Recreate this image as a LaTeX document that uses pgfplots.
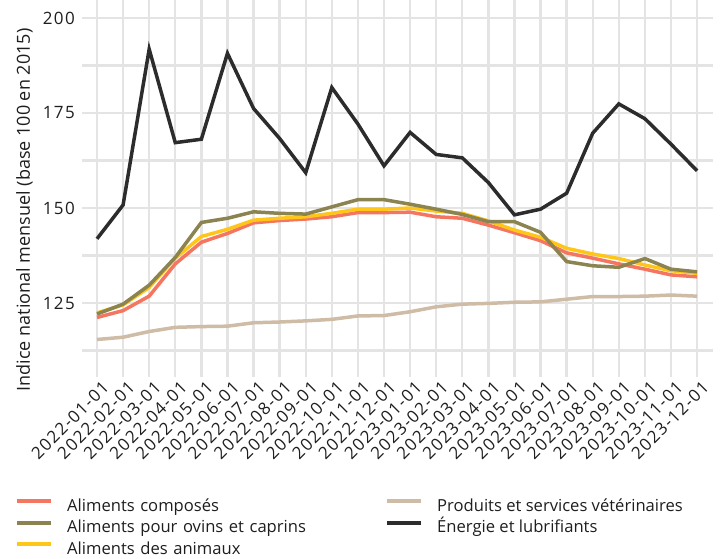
\documentclass[border=0pt]{standalone}
\usepackage{fontspec}
\setmainfont{Open Sans}
\newfontfamily\tickfont[LetterSpace=8]{Open Sans}
\usepackage{pgfplots}
\usepackage{pgfplotstable}
\pgfplotsset{compat=1.18}
\definecolor{cRed}{HTML}{F47560}
\definecolor{cOlive}{HTML}{8B8350}
\definecolor{cYellow}{HTML}{FFC61A}
\definecolor{cTan}{HTML}{CFBCA6}
\definecolor{cBlack}{HTML}{2C2C2C}
\definecolor{cGrid}{HTML}{E4E4E4}
\definecolor{cText}{HTML}{1E1E1E}
\pgfplotstableread{
x comp ovins anim vet ener
0  121.2 122.1 122.4 115.4 141.9
1  123.0 124.7 124.5 116.0 150.8
2  126.8 129.7 129.1 117.5 191.8
3  135.3 137.0 136.8 118.6 167.2
4  141.0 146.2 142.5 118.8 168.1
5  143.3 147.3 144.4 118.9 190.7
6  146.1 149.0 146.8 119.8 176.2
7  146.7 148.6 147.3 120.0 168.3
8  147.1 148.4 147.7 120.3 159.3
9  147.7 150.3 148.6 120.7 181.7
10 148.8 152.2 149.7 121.6 172.1
11 148.8 152.2 149.7 121.7 161.1
12 148.9 151.0 150.0 122.7 169.9
13 147.7 149.7 149.2 124.0 164.1
14 147.3 148.3 148.6 124.7 163.2
15 145.5 146.4 146.6 124.9 156.7
16 143.5 146.4 144.2 125.2 148.2
17 141.4 143.6 142.3 125.3 149.7
18 138.2 135.9 139.4 126.0 153.9
19 136.8 134.8 137.9 126.7 169.7
20 135.3 134.4 136.7 126.7 177.4
21 133.9 136.7 135.0 126.8 173.5
22 132.4 133.9 133.5 127.1 166.8
23 131.9 133.2 132.8 126.8 159.8
}\datatable
\begin{document}
\begin{tikzpicture}
\useasboundingbox (0,0) rectangle (720bp,559bp);
\begin{axis}[
  at={(82bp,182bp)}, anchor=south west,
  scale only axis, width=631bp, height=377bp,
  xmin=-0.575, xmax=23.61, ymin=105.53, ymax=204.74,
  axis line style={draw=none},
  major tick length=0pt, minor tick length=0pt,
  xtick={0,...,23},
  xticklabels={2022-01-01,2022-02-01,2022-03-01,2022-04-01,2022-05-01,2022-06-01,2022-07-01,2022-08-01,2022-09-01,2022-10-01,2022-11-01,2022-12-01,2023-01-01,2023-02-01,2023-03-01,2023-04-01,2023-05-01,2023-06-01,2023-07-01,2023-08-01,2023-09-01,2023-10-01,2023-11-01,2023-12-01},
  ytick={125,150,175,200},
  minor ytick={112.5,137.5,162.5,187.5},
  grid=both,
  major grid style={cGrid, line width=2.4bp},
  minor grid style={cGrid, line width=2.4bp},
  /pgf/number format/assume math mode=true,
  tick label style={font=\tickfont\fontsize{17bp}{20bp}\selectfont, text=cText},
  xticklabel style={rotate=45, anchor=north east, inner sep=0pt, yshift=-5bp, xshift=1bp},
  yticklabel style={anchor=east, inner sep=0pt, xshift=-7bp},
  ylabel={Indice national mensuel (base 100 en 2015)},
  ylabel style={at={(axis description cs:-0.1046,0.443)}, anchor=north, rotate=0, inner sep=0pt, font=\fontsize{18bp}{21bp}\selectfont, text=cText},
  legend columns=2,
  legend cell align=left,
  legend image code/.code={\draw[#1, line width=4bp] (0bp,6bp) -- (34bp,6bp);},
  legend style={at={(axis description cs:-0.1062,-0.3236)}, anchor=north west,
    draw=none, fill=none, inner sep=0pt, row sep=5.5bp,
    font=\fontsize{16.6bp}{19bp}\selectfont, text=cText,
    nodes={inner sep=0pt, text height=12bp, text depth=4bp},
    /tikz/every odd column/.append style={column sep=14bp},
    /tikz/column 2/.style={text width=318bp}},
]
\addplot[cTan, line width=3.5bp, forget plot] table[x=x, y=vet] {\datatable};
\addplot[cRed, line width=3.5bp, forget plot] table[x=x, y=comp] {\datatable};
\addplot[cYellow, line width=3.5bp, forget plot] table[x=x, y=anim] {\datatable};
\addplot[cOlive, line width=3.5bp, forget plot] table[x=x, y=ovins] {\datatable};
\addplot[cBlack, line width=3.5bp, forget plot] table[x=x, y=ener] {\datatable};
\addlegendimage{cRed}
\addlegendentry{Aliments composés}
\addlegendimage{cTan}
\addlegendentry{Produits et services vétérinaires}
\addlegendimage{cOlive}
\addlegendentry{Aliments pour ovins et caprins}
\addlegendimage{cBlack}
\addlegendentry{Énergie et lubrifiants}
\addlegendimage{cYellow}
\addlegendentry{Aliments des animaux}
\end{axis}
\end{tikzpicture}
\end{document}
